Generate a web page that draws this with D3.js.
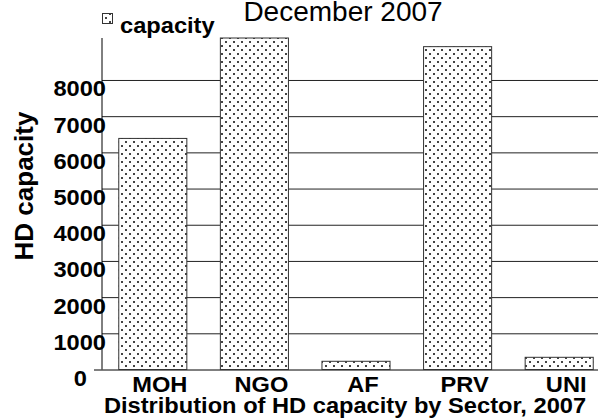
<!DOCTYPE html>
<html>
<head>
<meta charset="utf-8">
<script src="https://cdn.jsdelivr.net/npm/d3@7"></script>
<style>
  body { margin: 0; background: #fff; }
  svg { font-family: "Liberation Sans", Arial, sans-serif; }
</style>
</head>
<body>
<div id="chart"></div>
<script>
// data
var sectors = ['MOH', 'NGO', 'AF', 'PRV', 'UNI'];
var capacity = [6385, 9160, 227, 8921, 337];
var yTicks = [0, 1000, 2000, 3000, 4000, 5000, 6000, 7000, 8000];

var svgWidth = 598;
var svgHeight = 418;

// plot area edges
var plotLeft = 102, plotRight = 610, plotTop = 38, plotBottom = 369.5;

// bold labels in the original are a bit wider than Liberation
var boldSize = 21.5;
var stretch = 'scale(1.1,1)';

var svg = d3.select('#chart')
    .append('svg')
    .attr('width', svgWidth)
    .attr('height', svgHeight);

// dotted fill
var defs = svg.append('defs');
var pat = defs.append('pattern')
    .attr('id', 'dots')
    .attr('patternUnits', 'userSpaceOnUse')
    .attr('width', 8)
    .attr('height', 8);
pat.append('rect').attr('width', 8).attr('height', 8).attr('fill', '#fff');
pat.append('rect').attr('x', 1).attr('y', 1).attr('width', 2).attr('height', 2).attr('fill', '#444');
pat.append('rect').attr('x', 5).attr('y', 5).attr('width', 2).attr('height', 2).attr('fill', '#444');

var x = d3.scaleBand()
    .domain(sectors)
    .range([plotLeft, plotRight])
    .paddingInner(0.33)
    .paddingOuter(0.165);

var y = d3.scaleLinear()
    .domain([0, d3.max(capacity)])
    .range([plotBottom, plotTop]);

// gridlines + y tick labels
var yAxis = svg.append('g')
    .attr('class', 'y-axis')
    .attr('transform', `translate(${plotLeft}, 0)`)
    .call(d3.axisLeft(y)
        .tickValues(yTicks)
        .tickFormat(d3.format('d'))
        .tickSize(-(svgWidth - plotLeft))
        .tickPadding(0));

yAxis.select('.domain').remove();
yAxis.selectAll('.tick line')
    .attr('stroke', '#222')
    .attr('stroke-width', 1);
yAxis.selectAll('.tick text')
    .attr('x', 0)
    .attr('dy', 0)
    .attr('transform', d => `translate(${d === 0 ? -15 : 4}, 16)` + stretch)
    .attr('font-size', boldSize)
    .attr('font-weight', 'bold')
    .attr('font-family', '"Liberation Sans", Arial, sans-serif')
    .attr('fill', '#000')
    .attr('text-anchor', 'end');
// zero line runs a bit left of the axis
yAxis.selectAll('.tick').filter(d => d === 0).select('line').attr('x1', -8).attr('stroke', '#000');

// y axis line
svg.append('line')
    .attr('x1', plotLeft).attr('x2', plotLeft)
    .attr('y1', plotTop).attr('y2', plotBottom)
    .attr('stroke', '#000');

// bars
svg.selectAll('.bar')
    .data(sectors)
    .enter()
    .append('rect')
    .attr('class', 'bar')
    .attr('x', d => x(d))
    .attr('width', x.bandwidth())
    .attr('y', (d, i) => y(capacity[i]))
    .attr('height', (d, i) => plotBottom - y(capacity[i]))
    .attr('fill', 'url(#dots)')
    .attr('stroke', '#333')
    .attr('stroke-width', 1);

// x labels
svg.selectAll('.xlab')
    .data(sectors)
    .enter()
    .append('text')
    .attr('class', 'xlab')
    .attr('transform', d => `translate(${x(d) + x.bandwidth() / 2 + 7}, 391.5)` + stretch)
    .attr('text-anchor', 'middle')
    .attr('font-size', boldSize)
    .attr('font-weight', 'bold')
    .text(d => d);

// titles
svg.append('text')
    .attr('x', 343)
    .attr('y', 21)
    .attr('text-anchor', 'middle')
    .attr('font-size', 28)
    .text('December 2007');

svg.append('text')
    .attr('transform', 'translate(345, 413)' + stretch)
    .attr('text-anchor', 'middle')
    .attr('font-size', boldSize)
    .attr('font-weight', 'bold')
    .text('Distribution of HD capacity by Sector, 2007');

svg.append('text')
    .attr('transform', 'translate(33, 186) rotate(-90)')
    .attr('text-anchor', 'middle')
    .attr('font-size', 26)
    .attr('font-weight', 'bold')
    .text('HD capacity');

// legend
svg.append('rect')
    .attr('x', 102.5).attr('y', 13.5)
    .attr('width', 10).attr('height', 10)
    .attr('fill', 'url(#dots)')
    .attr('stroke', '#333');
svg.append('text')
    .attr('transform', 'translate(120, 32.5)' + stretch)
    .attr('font-size', boldSize)
    .attr('font-weight', 'bold')
    .text('capacity');
</script>
</body>
</html>
